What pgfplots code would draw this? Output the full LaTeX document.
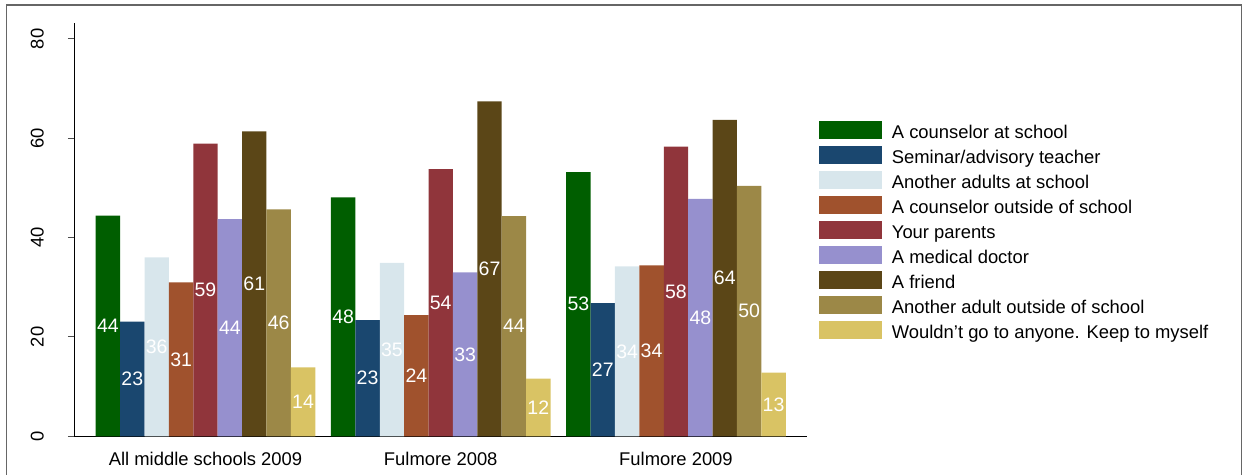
\documentclass[border=0pt]{standalone}
\usepackage{pgfplots}
\pgfplotsset{compat=1.18}
\usepackage{pgfplotstable}
\usepackage{fontspec}
\setmainfont{Liberation Sans}
\definecolor{c1}{RGB}{0,94,0}
\definecolor{c2}{RGB}{26,71,111}
\definecolor{c3}{RGB}{216,230,236}
\definecolor{c4}{RGB}{160,82,45}
\definecolor{c5}{RGB}{144,53,59}
\definecolor{c6}{RGB}{150,144,206}
\definecolor{c7}{RGB}{91,70,23}
\definecolor{c8}{RGB}{156,136,71}
\definecolor{c9}{RGB}{217,195,100}
\pgfplotstableread{
g s1 s2 s3 s4 s5 s6 s7 s8 s9
1 44.4 23.1 36.0 31.0 58.9 43.7 61.4 45.7 13.9
2 48.1 23.4 34.9 24.4 53.8 33.0 67.4 44.3 11.6
3 53.2 26.8 34.2 34.4 58.3 47.8 63.7 50.4 12.8
}\data
\newcommand{\fs}{\fontsize{18.4}{22}\selectfont}
\newcommand{\fb}{\fontsize{19.5}{23}\selectfont}
\pgfplotsset{
 mybar/.style={ybar, bar width=0.1037, bar shift=0pt, draw=none,
   legend image code/.code={\fill[##1,draw=none] (0pt,-9pt) rectangle (62.7pt,9pt);}},
 mylab/.style={draw=none, mark=none, forget plot, point meta=explicit,
   nodes near coords={\pgfmathprintnumber[fixed,precision=0]{\pgfplotspointmeta}},
   nodes near coords style={anchor=center, text=white, font=\fb}}
}
\begin{document}
\begin{tikzpicture}
\useasboundingbox (0pt,0pt) rectangle (1244pt,474pt);
\draw[color=black!60, line width=1.5pt] (6.5pt,-5pt) -- (6.5pt,469pt) -- (1241.5pt,469pt) -- (1241.5pt,-5pt);
\begin{axis}[
 at={(74pt,37.7pt)}, anchor=south west,
 scale only axis, width=733pt, height=413.3pt,
 xmin=0.441, xmax=3.557, ymin=0, ymax=83.2,
 axis lines=left, axis line style={-, black, line width=1pt},
 xtick={1,2,3}, xticklabels={All middle schools 2009, Fulmore 2008, Fulmore 2009},
 ytick={0,20,40,60,80},
 tick align=outside, major tick length=6pt,
 x tick style={draw=none},
 y tick style={black!70, line width=1pt},
 xticklabel style={font=\fs, anchor=north, inner sep=0pt, yshift=-10pt},
 yticklabel style={font=\fs, rotate=90, anchor=south, inner sep=0pt, yshift=24pt},
 /pgf/number format/assume math mode=true,
 legend style={at={(1.01637,0.7629)}, anchor=north west, draw=none, fill=none,
   inner sep=0pt, font=\fs, row sep=7pt,
   nodes={inner sep=0pt, text height=17pt, text depth=0.4pt},
   /tikz/every odd column/.append style={column sep=10pt}},
 legend cell align=left,
]
\addplot[mybar, fill=c1] table[x expr=\thisrow{g}-0.4148, y=s1] {\data};
\addplot[mybar, fill=c2] table[x expr=\thisrow{g}-0.3111, y=s2] {\data};
\addplot[mybar, fill=c3] table[x expr=\thisrow{g}-0.2074, y=s3] {\data};
\addplot[mybar, fill=c4] table[x expr=\thisrow{g}-0.1037, y=s4] {\data};
\addplot[mybar, fill=c5] table[x expr=\thisrow{g}, y=s5] {\data};
\addplot[mybar, fill=c6] table[x expr=\thisrow{g}+0.1037, y=s6] {\data};
\addplot[mybar, fill=c7] table[x expr=\thisrow{g}+0.2074, y=s7] {\data};
\addplot[mybar, fill=c8] table[x expr=\thisrow{g}+0.3111, y=s8] {\data};
\addplot[mybar, fill=c9] table[x expr=\thisrow{g}+0.4148, y=s9] {\data};
\legend{A counselor at school, Seminar/advisory teacher, Another adults at school, A counselor outside of school, Your parents, A medical doctor, A friend, Another adult outside of school, Wouldn{\char39}t go to anyone. Keep to myself}
\addplot[mylab] table[x expr=\thisrow{g}-0.4148, y expr=\thisrow{s1}/2, meta=s1] {\data};
\addplot[mylab] table[x expr=\thisrow{g}-0.3111, y expr=\thisrow{s2}/2, meta=s2] {\data};
\addplot[mylab] table[x expr=\thisrow{g}-0.2074, y expr=\thisrow{s3}/2, meta=s3] {\data};
\addplot[mylab] table[x expr=\thisrow{g}-0.1037, y expr=\thisrow{s4}/2, meta=s4] {\data};
\addplot[mylab] table[x expr=\thisrow{g}, y expr=\thisrow{s5}/2, meta=s5] {\data};
\addplot[mylab] table[x expr=\thisrow{g}+0.1037, y expr=\thisrow{s6}/2, meta=s6] {\data};
\addplot[mylab] table[x expr=\thisrow{g}+0.2074, y expr=\thisrow{s7}/2, meta=s7] {\data};
\addplot[mylab] table[x expr=\thisrow{g}+0.3111, y expr=\thisrow{s8}/2, meta=s8] {\data};
\addplot[mylab] table[x expr=\thisrow{g}+0.4148, y expr=\thisrow{s9}/2, meta=s9] {\data};
\end{axis}
\end{tikzpicture}
\end{document}
